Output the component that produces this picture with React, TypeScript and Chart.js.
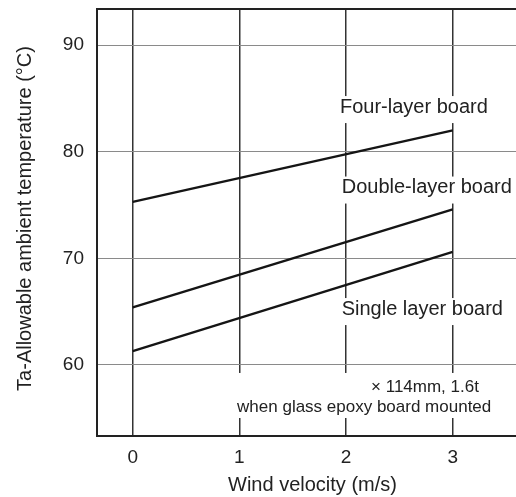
import React, { useEffect, useRef } from "react";
import { Chart, registerables } from "chart.js";

Chart.register(...registerables);

const FONT = '"Liberation Sans", Arial, Helvetica, sans-serif';

// Data
const windVelocity = [0, 3];
const fourLayer = [75.3, 82.0];
const doubleLayer = [65.4, 74.6];
const singleLayer = [61.3, 70.6];

const xTicks = [0, 1, 2, 3];
const yTicks = [60, 70, 80, 90];

const seriesNames = ["Four-layer board", "Double-layer board", "Single layer board"];
const noteLines = ["\u00d7 114mm, 1.6t", "when glass epoxy board mounted"];

const xTitle = "Wind velocity (m/s)";
const yTitle = "Ta-Allowable ambient temperature (\u00b0C)";

// label anchor positions (data coordinates: left edge, vertical centre)
const seriesLabelPos: [number, number][] = [
  [1.943, 84.19],
  [1.959, 76.64],
  [1.959, 65.24],
];
const notePos: [number, number][] = [
  [2.234, 57.93],
  [0.978, 56.05],
];

const labelPlugin = {
  id: "lineLabels",
  beforeDatasetsDraw(chart: any) {
    const { ctx, chartArea, scales } = chart;
    const x = scales.x;
    const y = scales.y;
    ctx.save();
    // top frame line
    ctx.strokeStyle = "#222";
    ctx.lineWidth = 2;
    ctx.beginPath();
    ctx.moveTo(chartArea.left - 1, chartArea.top);
    ctx.lineTo(chartArea.right, chartArea.top);
    ctx.stroke();

    ctx.textBaseline = "middle";
    ctx.textAlign = "left";
    ctx.font = `20px ${FONT}`;
    seriesNames.forEach((t, i) => {
      const px = x.getPixelForValue(seriesLabelPos[i][0]);
      const py = y.getPixelForValue(seriesLabelPos[i][1]);
      const w = ctx.measureText(t).width;
      ctx.fillStyle = "#fff";
      ctx.fillRect(px - 3, py - 11, w + 6, 27);
      ctx.fillStyle = "#222";
      ctx.fillText(t, px, py);
    });

    ctx.font = `17px ${FONT}`;
    let minX = Infinity;
    let maxX = -Infinity;
    const pts = noteLines.map((t, i) => {
      const px = x.getPixelForValue(notePos[i][0]);
      const py = y.getPixelForValue(notePos[i][1]);
      const w = ctx.measureText(t).width;
      minX = Math.min(minX, px);
      maxX = Math.max(maxX, px + w);
      return [px, py];
    });
    ctx.fillStyle = "#fff";
    ctx.fillRect(minX - 3, pts[0][1] - 14, maxX - minX + 6, pts[1][1] - pts[0][1] + 25);
    ctx.fillStyle = "#222";
    noteLines.forEach((t, i) => ctx.fillText(t, pts[i][0], pts[i][1]));
    ctx.restore();
  },
  afterDraw(chart: any) {
    const { ctx, chartArea } = chart;
    ctx.save();
    ctx.fillStyle = "#222";
    ctx.font = `20px ${FONT}`;
    ctx.textAlign = "center";
    ctx.textBaseline = "middle";
    // axis titles
    ctx.fillText(xTitle, (chartArea.left + chartArea.right) / 2 + 6, chart.height - 12);
    ctx.translate(25, (chartArea.top + chartArea.bottom) / 2 - 4);
    ctx.rotate(-Math.PI / 2);
    ctx.fillText(yTitle, 0, 0);
    ctx.restore();
  },
};

export default function App() {
  const ref = useRef<HTMLCanvasElement | null>(null);

  useEffect(() => {
    if (!ref.current) return;
    const mk = (vals: number[]) => windVelocity.map((v, i) => ({ x: v, y: vals[i] }));
    const ds = (label: string, vals: number[]) => ({
      label,
      data: mk(vals),
      borderColor: "#151515",
      borderWidth: 2.4,
      pointRadius: 0,
      fill: false,
      tension: 0,
    });
    const chart = new Chart(ref.current, {
      type: "line",
      data: {
        datasets: [
          ds(seriesNames[0], fourLayer),
          ds(seriesNames[1], doubleLayer),
          ds(seriesNames[2], singleLayer),
        ],
      },
      options: {
        animation: false,
        responsive: true,
        maintainAspectRatio: false,
        layout: { padding: { top: 9, right: 0, left: 0, bottom: 0 } },
        plugins: {
          legend: { display: false },
          tooltip: { enabled: false },
        },
        scales: {
          x: {
            type: "linear",
            min: -0.335,
            max: 3.593,
            afterBuildTicks: (s: any) => {
              s.ticks = xTicks.map((v) => ({ value: v }));
            },
            afterFit: (s: any) => {
              s.height = 61;
              s.paddingLeft = 0;
              s.paddingRight = 0;
            },
            grid: { color: "#333", lineWidth: 1.5, drawTicks: false },
            border: { display: true, color: "#222", width: 2 },
            ticks: {
              padding: 10,
              color: "#222",
              font: { family: FONT, size: 19 },
              maxRotation: 0,
            },
            title: { display: false },
          },
          y: {
            type: "linear",
            min: 53.33,
            max: 93.39,
            afterBuildTicks: (s: any) => {
              s.ticks = yTicks.map((v) => ({ value: v }));
            },
            afterFit: (s: any) => {
              s.width = 97;
              s.paddingTop = 0;
              s.paddingBottom = 0;
            },
            grid: { color: "#8a8a8a", lineWidth: 1, drawTicks: false },
            border: { display: true, color: "#222", width: 2 },
            ticks: {
              padding: 13,
              color: "#222",
              font: { family: FONT, size: 19 },
            },
            title: { display: false },
          },
        },
      },
      plugins: [labelPlugin],
    });
    return () => chart.destroy();
  }, []);

  return (
    <div style={{ position: "fixed", left: 0, top: 0, width: 516, height: 497, background: "#fff" }}>
      <canvas ref={ref} />
    </div>
  );
}
